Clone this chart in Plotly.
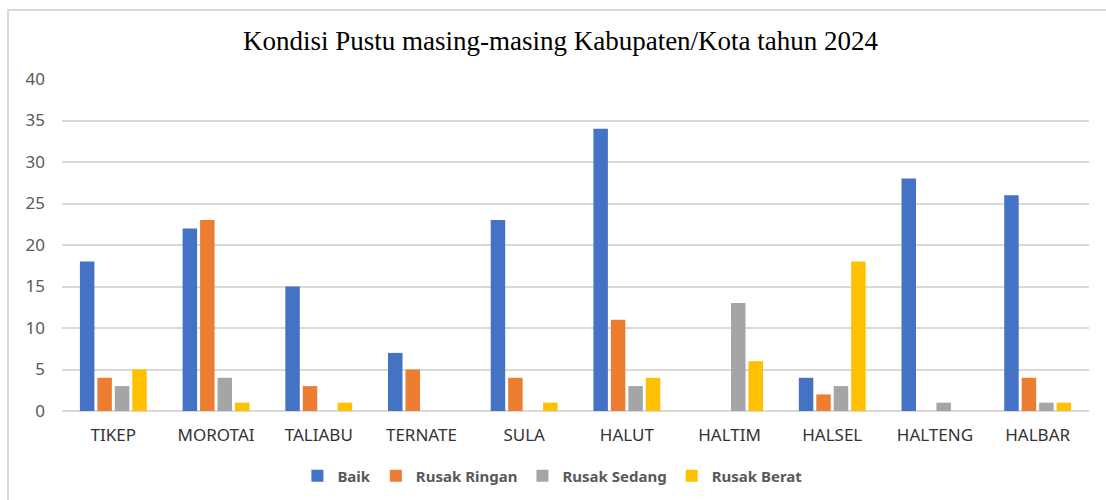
import plotly.graph_objects as go

categories = ["TIKEP", "MOROTAI", "TALIABU", "TERNATE", "SULA", "HALUT", "HALTIM", "HALSEL", "HALTENG", "HALBAR"]
baik = [18, 22, 15, 7, 23, 34, 0, 4, 28, 26]
rusak_ringan = [4, 23, 3, 5, 4, 11, 0, 2, 0, 4]
rusak_sedang = [3, 4, 0, 0, 0, 3, 13, 3, 1, 1]
rusak_berat = [5, 1, 1, 0, 1, 4, 6, 18, 0, 1]

series = [
    ("Baik", baik, "#4472C4"),
    ("Rusak Ringan", rusak_ringan, "#ED7D31"),
    ("Rusak Sedang", rusak_sedang, "#A5A5A5"),
    ("Rusak Berat", rusak_berat, "#FFC000"),
]

fig = go.Figure()
for name, vals, color in series:
    fig.add_trace(go.Bar(
        x=categories, y=vals, name=name,
        marker=dict(color=color, line=dict(width=0)),
    ))

W, H = 1106, 500
L, R, T, B = 62, 17, 79, 89
pw, ph = W - L - R, H - T - B

def px_x(p):
    return (p - L) / pw

def px_y(p):
    return (H - B - p) / ph

fig.update_layout(
    width=W, height=H,
    margin=dict(l=L, r=R, t=T, b=B, autoexpand=False),
    paper_bgcolor="white", plot_bgcolor="white",
    barmode="group", bargap=0.32, bargroupgap=0.17,
    title=dict(
        text="Kondisi Pustu masing-masing Kabupaten/Kota tahun 2024",
        font=dict(family="Liberation Serif", size=27, color="#000000"),
        x=560.5 / W, xanchor="center", y=1 - 41 / H, yanchor="middle",
    ),
    xaxis=dict(
        showgrid=False, showline=False, ticks="", automargin=False,
        tickfont=dict(family="Noto Sans", size=17, color="#333333"),
        ticklabelstandoff=12,
    ),
    yaxis=dict(
        range=[0, 40], dtick=5, showgrid=True, gridcolor="#D9D9D9", gridwidth=1.5,
        zeroline=True, zerolinecolor="#D9D9D9", zerolinewidth=1.5,
        showline=False, ticks="", automargin=False,
        tickfont=dict(family="Noto Sans", size=17, color="#595959"),
        ticklabelstandoff=16,
    ),
    legend=dict(
        orientation="h", x=0.4775, xanchor="center", y=px_y(476), yanchor="middle",
        font=dict(family="Noto Sans", size=15, color="#595959", weight="bold"),
        itemwidth=30, traceorder="normal",
    ),
    showlegend=True,
)

fig.add_shape(
    type="rect", xref="paper", yref="paper",
    x0=px_x(8), x1=px_x(1120), y0=px_y(10), y1=px_y(520),
    line=dict(color="#D9D9D9", width=2), fillcolor="rgba(0,0,0,0)", layer="below",
)

fig.write_html("out.html", config={"displayModeBar": False},
               post_script="document.body.style.margin='0px';")
